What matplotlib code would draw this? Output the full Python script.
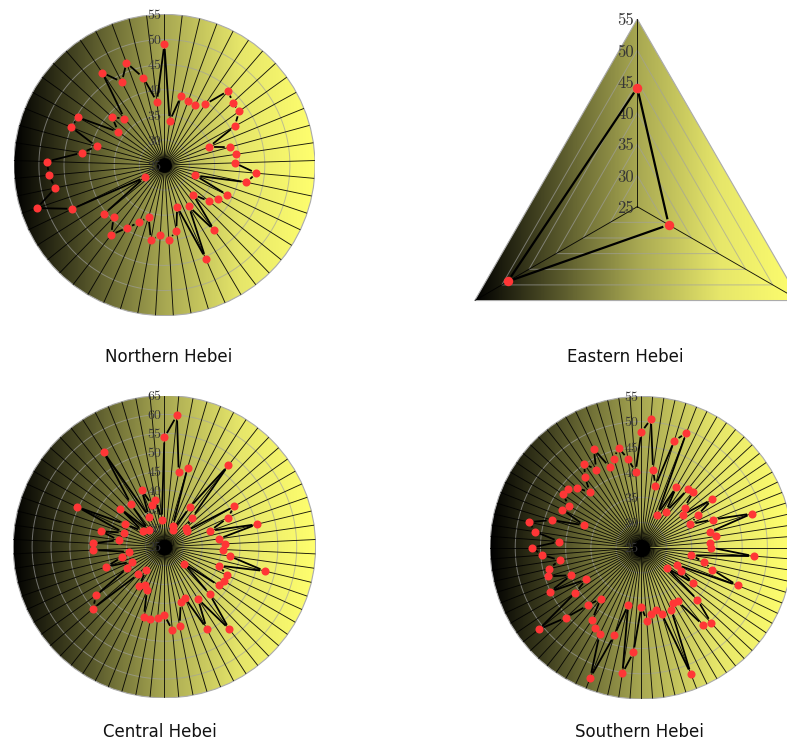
import numpy as np
import matplotlib
matplotlib.use("Agg")
import matplotlib.pyplot as plt
from matplotlib.colors import LinearSegmentedColormap
from matplotlib.patches import Circle, Polygon

north = [49.1, 33.8, 39.1, 38.5, 38.5, 39.6, 44.5, 43.4, 43.3, 41.0, 34.6, 38.5, 39.4, 39.0,
         43.4, 41.7, 31.5, 38.9, 37.7, 36.5, 33.2, 41.4, 34.6, 45.4, 33.7, 38.4, 39.9, 39.0,
         40.2, 35.8, 37.5, 39.5, 42.5, 39.5, 40.4, 29.6, 45.3, 51.8, 47.2, 48.1, 48.4, 41.6,
         39.0, 45.0, 44.7, 36.3, 39.1, 37.2, 47.2, 43.6, 46.7, 42.9, 37.7]
east = [44.0, 30.8, 48.9]
central = [53.9, 59.9, 45.0, 46.8, 30.9, 30.1, 37.4, 52.4, 35.6, 32.5, 32.2, 46.4, 43.4, 37.8,
           50.3, 39.5, 41.1, 40.6, 42.4, 52.4, 40.3, 43.2, 43.3, 42.6, 31.8, 42.3, 52.8, 41.4,
           49.4, 39.5, 40.3, 46.3, 47.2, 43.1, 44.0, 44.6, 44.3, 37.4, 36.3, 37.3, 32.9, 35.1,
           50.0, 47.2, 36.3, 34.5, 41.3, 36.5, 34.5, 43.8, 43.9, 37.2, 42.3, 36.4, 50.3, 36.9,
           32.0, 40.4, 31.0, 39.3, 54.8, 33.9, 41.2, 36.5, 37.5, 32.2]
south = [47.9, 50.6, 40.6, 37.6, 47.2, 49.4, 32.3, 38.9, 33.6, 39.8, 40.2, 36.7, 35.5, 42.0,
         37.9, 35.8, 40.3, 48.0, 38.9, 40.0, 38.7, 38.9, 47.4, 35.0, 37.7, 39.7, 45.5, 32.9,
         34.2, 37.5, 31.4, 40.2, 45.4, 44.6, 37.9, 37.7, 38.7, 51.9, 38.7, 37.7, 38.3, 39.5,
         36.7, 45.8, 50.2, 36.6, 43.2, 52.7, 44.1, 43.4, 42.3, 37.9, 40.6, 45.4, 51.0, 40.8,
         37.6, 45.1, 39.9, 44.3, 43.7, 41.4, 44.7, 46.7, 41.3, 46.3, 47.8, 43.6, 37.1, 42.4,
         41.6, 43.8, 43.6, 42.4, 40.0, 42.9, 45.1, 42.9, 46.7, 42.2, 43.5, 45.3, 42.8, 40.1]

ticks_short = [25, 30, 35, 40, 45, 50, 55]
ticks_central = [25, 30, 35, 40, 45, 50, 55, 60, 65]

W, H = 787, 740
fig = plt.figure(figsize=(W / 100, H / 100), dpi=100)
grad = LinearSegmentedColormap.from_list("olive", ["#000000", "#55552a", "#a8a852", "#e6e66a", "#ffff6e"])


def draw_radar(values, ticks, cx, cy, R, title, tx, ty, label_size=10.0, ms=5.8, lw=1.3):
    n = len(values)
    theta = np.arange(n) * 2 * np.pi / n
    rect = [(cx - R) / W, 1 - (cy + R) / H, 2 * R / W, 2 * R / H]

    # gradient background on its own axes, polar one goes on top
    bg = fig.add_axes(rect)
    bg.axis("off")
    if n == 3:
        # triangle: gradient only covers the width of the triangle
        hw = np.sqrt(3) / 4
        pts = [(0.5, 1), (0.5 + hw, 0.25), (0.5 - hw, 0.25)]
        ext = (0.5 - hw, 0.5 + hw, 0, 1)
        clip = Polygon(pts, transform=bg.transAxes, fc="none", ec="#ababab", lw=0.8)
    else:
        ext = (0, 1, 0, 1)
        clip = Circle((0.5, 0.5), 0.5, transform=bg.transAxes, fc="none", ec="#ababab", lw=0.8)
    im = bg.imshow(np.linspace(0, 1, 256).reshape(1, -1), cmap=grad, extent=ext, aspect="auto",
                   transform=bg.transAxes)
    bg.add_patch(clip)
    im.set_clip_path(clip)
    bg.set_xlim(0, 1)
    bg.set_ylim(0, 1)

    ax = fig.add_axes(rect, projection="polar")
    ax.patch.set_alpha(0)
    ax.set_theta_zero_location("N")
    ax.set_theta_direction(-1)
    ax.set_ylim(ticks[0], ticks[-1])
    ax.grid(False)
    ax.set_xticks([])
    ax.set_yticks([])
    ax.spines["polar"].set_visible(False)

    # rings
    if n == 3:
        for t in ticks[1:-1]:
            ax.plot(np.append(theta, 0), [t] * 4, color="#a0a0a0", lw=0.7, alpha=0.65, zorder=1)
    else:
        ring = np.linspace(0, 2 * np.pi, 361)
        for t in ticks[1:-1]:
            ax.plot(ring, [t] * 361, color="#a0a0a0", lw=0.7, alpha=0.65, zorder=1)

    for a in theta:
        ax.plot([a, a], [ticks[0], ticks[-1]], color="#000000", lw=0.65, alpha=0.9, zorder=2)

    # the spokes run together at the centre
    if n > 3:
        disc = 2 * (5 + 0.045 * n) * 0.72
        ax.plot([0], [ticks[0]], marker="o", ms=disc, mfc="black", mew=0, zorder=2)

    for t in ticks:
        ax.annotate(str(t), (0, t), xytext=(-2.2, -1.2), textcoords="offset points", ha="right",
                    va="center", fontsize=label_size, family="cmr10", color="#363636", zorder=3)

    # line stops a little short of each marker
    gap = ms / 0.72 / 2 + 1.0
    th = np.append(theta, 0)
    val = np.append(values, values[0])
    pix = ax.transData.transform(np.column_stack([th, val]))
    for i in range(n):
        d = pix[i + 1] - pix[i]
        size = np.hypot(d[0], d[1])
        if size <= 2 * gap:
            continue
        step = d / size * gap
        seg = ax.transData.inverted().transform([pix[i] + step, pix[i + 1] - step])
        ax.plot(seg[:, 0], seg[:, 1], color="black", lw=lw, solid_capstyle="butt", zorder=4)
    ax.plot(theta, values, ls="none", marker="o", ms=ms, mfc="#ff3636", mew=0, zorder=5)
    ax.set_ylim(ticks[0], ticks[-1])

    fig.text(tx / W, 1 - ty / H, title, ha="center", va="center", family="DejaVu Sans", fontsize=12,
             color="#111111")


draw_radar(north, ticks_short, 164.4, 165, 150.6, "Northern Hebei", 169, 357)
draw_radar(east, ticks_short, 637.3, 206.7, 187.7, "Eastern Hebei", 625, 357, label_size=12.0, ms=6.8, lw=1.6)
draw_radar(central, ticks_central, 164.4, 546.7, 151.2, "Central Hebei", 160, 732)
draw_radar(south, ticks_short, 641.3, 547.7, 151.3, "Southern Hebei", 639, 732)

fig.savefig("out.png", dpi=100)
